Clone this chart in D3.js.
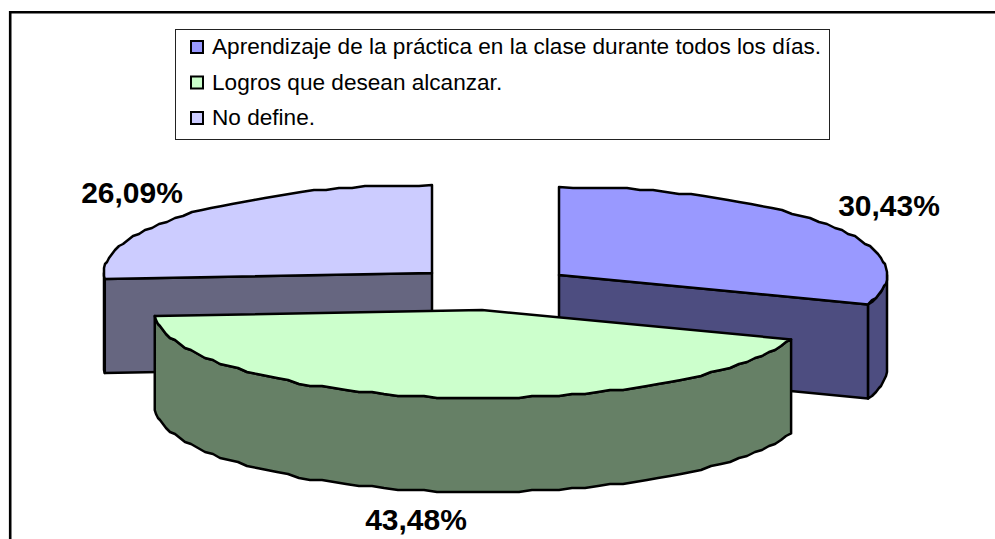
<!DOCTYPE html>
<html>
<head>
<meta charset="utf-8">
<script src="https://cdn.jsdelivr.net/npm/d3@7"></script>
<style>
  html, body { margin: 0; padding: 0; background: #fff; }
  svg { display: block; }
  text { font-family: "Liberation Sans", Arial, sans-serif; fill: #000; }
</style>
</head>
<body>
<svg id="chart" width="995" height="539"></svg>
<script>
const categories = ['Aprendizaje de la práctica en la clase durante todos los días.', 'Logros que desean alcanzar.', 'No define.']
const values = [30.43, 43.48, 26.09]
const value_labels = ['30,43%', '43,48%', '26,09%']
const top_colors = ['#9999ff', '#ccffcc', '#ccccff']
const side_colors = ['#4d4d80', '#668066', '#666680']
const apex_x = [559, 482, 432]
const apex_y = [275, 310, 273]
const label_x = [889, 416, 132]
const label_y = [216, 530, 203]

const RX = 328, RY = 88, DEPTH = 94
const svg = d3.select('#chart')

// frame, open on the right and at the bottom
svg.append('path')
   .attr('d', 'M10.2,539V12.2H995')
   .attr('fill', 'none').attr('stroke', '#000').attr('stroke-width', 2.6)

const arcs = d3.pie().sort(null).value(d => d)(values)
const ex = (i, t) => apex_x[i] + RX * Math.sin(t)
const ey = (i, t) => apex_y[i] - RY * Math.cos(t)
const line = d3.line()

// polygon snapped to a 2px grid, the original rim is slightly stepped
function rim(i, a, b) {
  const n = Math.max(2, Math.ceil((b - a) * 24))
  return d3.range(n + 1).map(k => {
    const t = a + (b - a) * k / n
    if (k === 0 || k === n) return [ex(i, t), ey(i, t)]
    return [Math.round(ex(i, t)), Math.round(ey(i, t) / 2) * 2]
  })
}

function draw_walls(i) {
  const a = arcs[i].startAngle, b = arcs[i].endAngle
  const apex = [apex_x[i], apex_y[i]]
  const down = p => [p[0], p[1] + DEPTH]
  const g = svg.append('g').attr('fill', side_colors[i]).attr('stroke', '#000')
               .attr('stroke-width', 2.5).attr('stroke-linejoin', 'round')
  // cut faces that turn to the viewer
  ;[a, b].forEach(t => {
    const p = [ex(i, t), ey(i, t)]
    if ((t === b && Math.sin(t) > 0) || (t === a && Math.sin(t) < 0))
      g.append('path').attr('d', line([apex, p, down(p), down(apex)]) + 'Z')
  })
  // outer wall on the front half
  const lo = Math.max(a, Math.PI / 2), hi = Math.min(b, Math.PI * 1.5)
  if (hi > lo) {
    const r = rim(i, lo, hi)
    g.append('path').attr('d', line(r.concat(r.slice().reverse().map(down))) + 'Z')
  }
}

function draw_top(i) {
  const a = arcs[i].startAngle, b = arcs[i].endAngle
  svg.append('path')
     .attr('d', line([[apex_x[i], apex_y[i]]].concat(rim(i, a, b))) + 'Z')
     .attr('fill', top_colors[i]).attr('stroke', '#000')
     .attr('stroke-width', 2.5).attr('stroke-linejoin', 'round')
}

;[0, 2, 1].forEach(i => { draw_walls(i); draw_top(i) })

svg.selectAll('.value-label').data(value_labels).join('text')
   .attr('class', 'value-label')
   .attr('x', (_, i) => label_x[i]).attr('y', (_, i) => label_y[i])
   .attr('text-anchor', 'middle')
   .attr('font-size', 30).attr('font-weight', 'bold')
   .text(d => d)

// legend
svg.append('rect').attr('x', 175.5).attr('y', 29.5).attr('width', 654).attr('height', 110)
   .attr('fill', '#fff').attr('stroke', '#222').attr('stroke-width', 1)

const row = d3.scalePoint().domain(categories).range([47, 118])
const legend = svg.selectAll('.legend-row').data(categories).join('g')
   .attr('class', 'legend-row')
   .attr('transform', d => `translate(0,${row(d)})`)
legend.append('rect')
   .attr('x', 191).attr('y', -6).attr('width', 12).attr('height', 12)
   .attr('fill', (_, i) => top_colors[i]).attr('stroke', '#000').attr('stroke-width', 2)
legend.append('text')
   .attr('x', 212).attr('y', 7)
   .attr('font-size', 22.6)
   .text(d => d)
</script>
</body>
</html>
